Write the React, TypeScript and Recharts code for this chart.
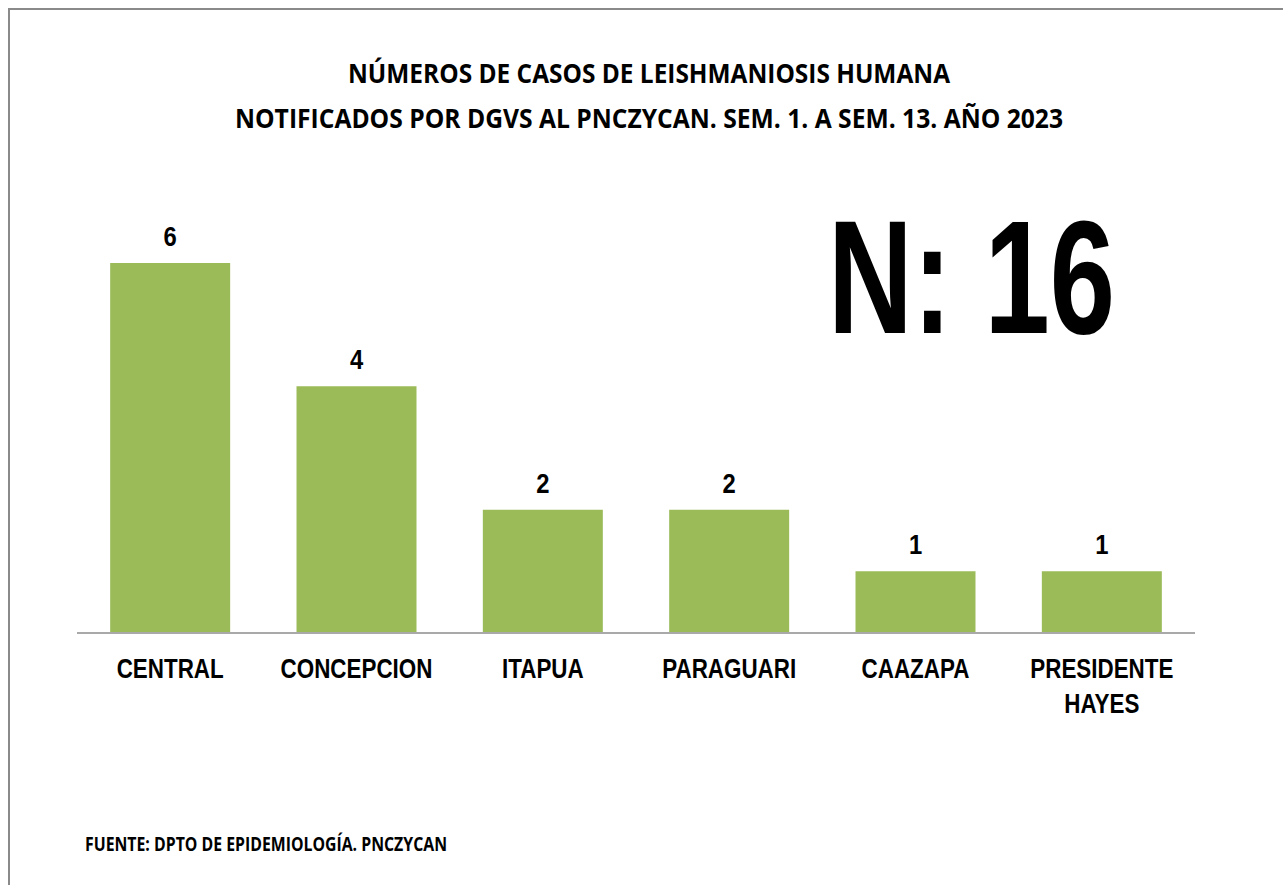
import React from "react";
import { BarChart, Bar, XAxis, YAxis, LabelList } from "recharts";

const categories = ["CENTRAL", "CONCEPCION", "ITAPUA", "PARAGUARI", "CAAZAPA", "PRESIDENTE HAYES"];
const casos = [6, 4, 2, 2, 1, 1];
const titleLines = [
  "NÚMEROS DE CASOS DE LEISHMANIOSIS HUMANA",
  "NOTIFICADOS POR DGVS AL PNCZYCAN. SEM. 1. A SEM. 13. AÑO 2023",
];
const totalLabel = "N: 16";
const sourceLabel = "FUENTE: DPTO DE EPIDEMIOLOGÍA. PNCZYCAN";

const data = categories.map((c, i) => ({ name: c, value: casos[i] }));

const NARROW = '"Liberation Sans Narrow", "Arial Narrow", "Liberation Sans", Arial, sans-serif';
const TITLE_FONT = '"Open Sans", "Noto Sans", sans-serif';
const SQUEEZE = 0.8;

const Tick = (props: any) => {
  const { x, y, payload } = props;
  const words = String(payload.value).split(" ");
  return (
    <g transform={`translate(${x},0) scale(${SQUEEZE},1)`}>
      {words.map((w: string, i: number) => (
        <text
          key={i}
          x={0}
          y={y + 45 + i * 35}
          textAnchor="middle"
          fontFamily={NARROW}
          fontWeight="bold"
          fontSize={28}
          fill="#000"
        >
          {w}
        </text>
      ))}
    </g>
  );
};

const ValueLabel = (props: any) => {
  const { x, y, width, value } = props;
  const cx = x + width / 2;
  return (
    <g transform={`translate(${cx},0) scale(0.85,1)`}>
      <text x={0} y={y - 17} textAnchor="middle" fontFamily={NARROW} fontWeight="bold" fontSize={28} fill="#000">
        {value}
      </text>
    </g>
  );
};

export default function App() {
  return (
    <div style={{ position: "absolute", left: 0, top: 0, width: 1283, height: 885, background: "#fff", overflow: "hidden" }}>
      <div
        style={{
          position: "absolute",
          left: 8,
          top: 8,
          width: 1275,
          height: 877,
          boxSizing: "border-box",
          borderTop: "2px solid #8a8a8a",
          borderLeft: "2px solid #8a8a8a",
        }}
      />
      <div style={{ position: "absolute", left: 0, top: 0 }}>
        <BarChart
          width={1283}
          height={885}
          data={data}
          margin={{ top: 263, right: 88, bottom: 192, left: 77 }}
          barCategoryGap="17.8%"
        >
          <XAxis
            dataKey="name"
            axisLine={{ stroke: "#a9a9a9", strokeWidth: 2 }}
            tickLine={false}
            tickSize={0}
            tickMargin={0}
            height={60}
            interval={0}
            tick={<Tick />}
          />
          <YAxis hide domain={[0, 6]} />
          <Bar dataKey="value" fill="#9BBB59" isAnimationActive={false}>
            <LabelList dataKey="value" content={<ValueLabel />} />
          </Bar>
        </BarChart>
      </div>
      <svg width={1283} height={885} style={{ position: "absolute", left: 0, top: 0, pointerEvents: "none" }}>
        <text x={649} y={83} textAnchor="middle" fontFamily={TITLE_FONT} fontWeight="bold" fontSize={26} textLength={602} lengthAdjust="spacingAndGlyphs" fill="#000">
          {titleLines[0]}
        </text>
        <text x={649} y={128} textAnchor="middle" fontFamily={TITLE_FONT} fontWeight="bold" fontSize={26} textLength={828} lengthAdjust="spacingAndGlyphs" fill="#000">
          {titleLines[1]}
        </text>
        <text x={828} y={333} fontFamily={NARROW} fontWeight="bold" fontSize={162} textLength={287} lengthAdjust="spacingAndGlyphs" fill="#000">
          {totalLabel}
        </text>
        <text x={85} y={851} fontFamily={TITLE_FONT} fontWeight="bold" fontSize={20} textLength={362} lengthAdjust="spacingAndGlyphs" fill="#000">
          {sourceLabel}
        </text>
      </svg>
    </div>
  );
}
